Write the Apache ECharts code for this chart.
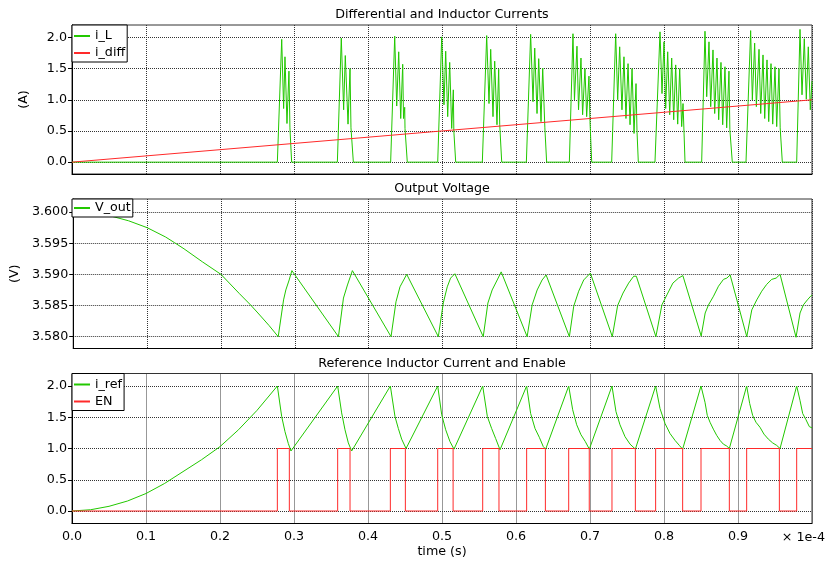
<!DOCTYPE html>
<html>
<head>
<meta charset="utf-8">
<script src="https://cdn.jsdelivr.net/npm/echarts@6.0.0/dist/echarts.min.js"></script>
<style>html,body{margin:0;padding:0;background:#fff}#c{width:827px;height:565px}</style>
</head>
<body>
<div id="c"></div>
<script>
// ---- data (time in units of 1e-4 s) ----
const xTicks = [0, 0.1, 0.2, 0.3, 0.4, 0.5, 0.6, 0.7, 0.8, 0.9, 1.0];
const currentTicks = [0, 0.5, 1.0, 1.5, 2.0];
const voltTicks = [3.580, 3.585, 3.590, 3.595, 3.600];

const iDiff = [[0, 0], [1.0, 1.0]];

const iL = [
  [0,0],
  [0.2775,0],[0.2834,1.97],[0.2860,0.86],[0.2878,1.69],[0.2905,0.62],[0.2932,1.46],[0.2945,0.55],[0.2968,0],
  [0.3586,0],[0.3639,1.99],[0.3671,0.84],[0.3693,1.71],[0.3730,0.61],[0.3757,1.50],[0.3770,0.55],[0.3802,0],
  [0.4306,0],[0.4361,2.02],[0.4388,0.90],[0.4415,1.77],[0.4442,0.70],[0.4469,1.57],[0.4480,0.70],[0.4496,0.88],[0.4500,0.54],[0.4531,0],
  [0.4942,0],[0.4996,2.01],[0.5027,0.92],[0.5050,1.78],[0.5077,0.73],[0.5104,1.60],[0.5131,0.54],[0.5153,1.16],[0.5160,0.50],[0.5185,0],
  [0.5545,0],[0.5604,2.03],[0.5635,0.94],[0.5658,1.81],[0.5689,0.73],[0.5712,1.62],[0.5743,0.60],[0.5766,1.49],[0.5780,0.60],[0.5807,0],
  [0.6140,0],[0.6198,2.05],[0.6230,0.97],[0.6253,1.83],[0.6284,0.78],[0.6307,1.66],[0.6338,0.65],[0.6361,1.51],[0.6390,0.55],[0.6414,0],
  [0.6721,0],[0.6770,2.06],[0.6790,1.00],[0.6824,1.86],[0.6845,0.84],[0.6878,1.67],[0.6900,0.76],[0.6932,1.50],[0.6955,0.73],[0.6986,1.38],[0.7000,0.65],[0.7023,0],
  [0.7293,0],[0.7347,2.06],[0.7374,1.00],[0.7401,1.85],[0.7432,0.84],[0.7459,1.69],[0.7486,0.70],[0.7514,1.58],[0.7541,0.60],[0.7568,1.50],[0.7595,0.46],[0.7622,1.26],[0.7635,0.50],[0.7653,0],
  [0.7878,0],[0.7946,2.09],[0.7973,1.10],[0.8000,1.93],[0.8023,0.86],[0.8050,1.77],[0.8077,0.76],[0.8104,1.67],[0.8131,0.68],[0.8158,1.56],[0.8185,0.61],[0.8212,1.50],[0.8239,0.57],[0.8257,0.94],[0.8270,0.50],[0.8284,0],
  [0.8509,0],[0.8554,2.10],[0.8577,1.05],[0.8608,1.93],[0.8631,0.89],[0.8662,1.80],[0.8685,0.78],[0.8716,1.67],[0.8739,0.68],[0.8770,1.60],[0.8793,0.60],[0.8824,1.53],[0.8847,0.55],[0.8878,1.46],[0.8890,0.52],[0.8923,0],
  [0.9108,0],[0.9171,2.11],[0.9194,1.00],[0.9225,1.91],[0.9248,0.89],[0.9284,1.81],[0.9307,0.78],[0.9338,1.72],[0.9361,0.70],[0.9392,1.64],[0.9415,0.65],[0.9446,1.58],[0.9469,0.61],[0.9500,1.53],[0.9523,0.57],[0.9554,1.50],[0.9570,0.55],[0.9599,0],
  [0.9793,0],[0.9838,2.13],[0.9865,1.08],[0.9896,1.98],[0.9923,1.01],[0.9950,1.85],[0.9977,0.84],[1.0,1.30]
];

const vOut = [
  [0,3.6000],[0.025,3.5998],[0.05,3.5994],[0.075,3.5986],[0.1,3.5975],[0.125,3.5960],[0.137,3.5951],[0.15,3.5941],
  [0.175,3.5920],[0.2,3.5900],[0.225,3.5869],[0.24,3.5851],[0.25,3.5838],[0.265,3.5818],[0.2775,3.5800],
  [0.2847,3.5859],[0.2878,3.5875],[0.2923,3.5891],[0.2960,3.5906],
  [0.3590,3.5800],
  [0.3658,3.5862],[0.3712,3.5883],[0.3779,3.5906],
  [0.4302,3.5800],
  [0.4369,3.5856],[0.4423,3.5880],[0.4514,3.5900],
  [0.4942,3.5800],
  [0.5009,3.5854],[0.5063,3.5880],[0.5108,3.5894],[0.5166,3.5901],
  [0.5550,3.5800],
  [0.5613,3.5854],[0.5671,3.5875],[0.5739,3.5891],[0.5793,3.5904],
  [0.6144,3.5800],
  [0.6212,3.5851],[0.6280,3.5875],[0.6347,3.5891],[0.6401,3.5899],
  [0.6716,3.5800],
  [0.6775,3.5849],[0.6842,3.5873],[0.6910,3.5891],[0.7000,3.5902],
  [0.7297,3.5800],
  [0.7369,3.5850],[0.7442,3.5870],[0.7518,3.5886],[0.7586,3.5897],[0.7622,3.5897],
  [0.7887,3.5800],
  [0.7968,3.5851],[0.8036,3.5867],[0.8117,3.5886],[0.8193,3.5894],[0.8252,3.5898],
  [0.8500,3.5801],
  [0.8554,3.5838],[0.8599,3.5851],[0.8667,3.5865],[0.8734,3.5881],[0.8802,3.5892],[0.8847,3.5894],[0.8892,3.5899],
  [0.9117,3.5800],
  [0.9185,3.5843],[0.9252,3.5859],[0.9320,3.5873],[0.9387,3.5884],[0.9455,3.5892],[0.9514,3.5894],[0.9568,3.5900],
  [0.9784,3.5799],
  [0.9838,3.5838],[0.9883,3.5851],[0.9937,3.5859],[0.9982,3.5865],[1.0,3.5867]
];

const iRef = [
  [0,0],[0.025,0.02],[0.05,0.075],[0.075,0.16],[0.1,0.28],[0.125,0.44],[0.15,0.63],[0.175,0.82],[0.2,1.03],[0.225,1.30],[0.25,1.61],[0.2775,2.0],
  [0.2834,1.51],[0.2878,1.27],[0.2923,1.08],[0.2959,0.96],
  [0.3590,2.0],
  [0.3644,1.57],[0.3689,1.30],[0.3734,1.09],[0.3779,0.96],
  [0.4302,2.0],
  [0.4365,1.51],[0.4410,1.32],[0.4455,1.15],[0.4514,1.00],
  [0.4942,2.0],
  [0.4996,1.54],[0.5050,1.30],[0.5108,1.11],[0.5162,0.99],
  [0.5550,2.0],
  [0.5613,1.51],[0.5671,1.32],[0.5725,1.16],[0.5784,0.98],
  [0.6144,2.0],
  [0.6198,1.56],[0.6257,1.32],[0.6315,1.18],[0.6369,1.03],[0.6401,0.99],
  [0.6712,2.0],
  [0.6766,1.62],[0.6820,1.38],[0.6878,1.22],[0.6937,1.11],[0.6991,0.99],
  [0.7297,2.0],
  [0.7351,1.59],[0.7405,1.38],[0.7473,1.19],[0.7541,1.07],[0.7613,0.99],
  [0.7887,2.0],
  [0.7946,1.64],[0.8014,1.40],[0.8081,1.24],[0.8149,1.13],[0.8207,1.05],[0.8252,0.99],
  [0.8500,2.0],
  [0.8554,1.74],[0.8585,1.53],[0.8622,1.42],[0.8667,1.31],[0.8712,1.21],[0.8757,1.13],[0.8802,1.07],[0.8847,1.04],[0.8883,1.00],
  [0.9117,2.0],
  [0.9158,1.72],[0.9198,1.53],[0.9243,1.42],[0.9297,1.34],[0.9351,1.23],[0.9410,1.15],[0.9468,1.09],[0.9523,1.05],[0.9568,1.00],
  [0.9793,2.0],
  [0.9838,1.77],[0.9874,1.56],[0.9919,1.46],[0.9964,1.35],[1.0,1.33]
];

// EN: value holds from each point until the next point
const enSig = [
  [0,0],[0.2775,1],[0.2937,0],[0.3590,1],[0.3757,0],[0.4302,1],[0.4505,0],[0.4942,1],[0.5150,0],
  [0.5550,1],[0.5770,0],[0.6144,1],[0.6397,0],[0.6712,1],[0.6990,0],[0.7297,1],[0.7613,0],
  [0.7887,1],[0.8252,0],[0.8500,1],[0.8883,0],[0.9117,1],[0.9559,0],[0.9793,1],[1.0,1]
];

const titles = ['Differential and Inductor Currents', 'Output Voltage', 'Reference Inductor Current and Enable'];

// ---- chart ----
const FONT = '"DejaVu Sans", Verdana, sans-serif';
const FS = 12.7;
const GREEN = '#22c800';
const RED = '#ff2a2a';
const gridTops = [25, 199, 373.5];
const gridHeights = [149, 149.5, 150];

const chart = echarts.init(document.getElementById('c'), null, {renderer: 'canvas'});

const grids = gridTops.map((t, i) => ({
  left: 72, right: 15, top: t, height: gridHeights[i],
  show: true, borderColor: '#333', borderWidth: 1, backgroundColor: '#fff'
}));

const xAxes = [0, 1, 2].map(i => ({
  type: 'value', gridIndex: i, min: 0, max: 1, interval: 0.1,
  axisLine: {show: true, onZero: false, lineStyle: {color: '#000', width: 1}},
  axisTick: {show: false},
  axisLabel: {
    show: i === 2, margin: 7, color: '#000', fontSize: FS, fontFamily: FONT,
    formatter: v => (Math.abs(v - 1) < 1e-9 ? '' : v.toFixed(1))
  },
  splitLine: {show: true, lineStyle: {color: '#333', type: [1, 1], width: 1}},
  name: i === 2 ? 'time (s)' : '',
  nameLocation: 'middle', nameGap: 22,
  nameTextStyle: {color: '#000', fontSize: FS, fontFamily: FONT}
}));

function yAxisDef(i, min, max, ticks, digits, name) {
  return {
    type: 'value', gridIndex: i, min: min, max: max,
    axisLine: {show: true, lineStyle: {color: '#000', width: 1}},
    axisTick: {show: true, length: 4, customValues: ticks, lineStyle: {color: '#000'}},
    axisLabel: {
      customValues: ticks, margin: 5, color: '#000', fontSize: FS, fontFamily: FONT,
      formatter: v => v.toFixed(digits)
    },
    splitLine: {show: true, lineStyle: {color: '#333', type: [1, 1], width: 1}},
    name: name, nameLocation: 'middle', nameGap: 42,
    nameTextStyle: {color: '#000', fontSize: FS, fontFamily: FONT}
  };
}

const yAxes = [
  yAxisDef(0, -0.19, 2.2, currentTicks, 1, '(A)'),
  yAxisDef(1, 3.5781, 3.6021, voltTicks, 3, '(V)'),
  yAxisDef(2, -0.2, 2.2, currentTicks, 1, '')
];

function lineSeries(name, data, idx, color, step) {
  const s = {
    name: name, type: 'line', data: data, xAxisIndex: idx, yAxisIndex: idx,
    showSymbol: false, symbol: 'none', sampling: null,
    lineStyle: {color: color, width: 1}, itemStyle: {color: color},
    emphasis: {disabled: true}, animation: false, clip: true
  };
  if (step) s.step = step;
  return s;
}

const legendBase = {
  orient: 'vertical', left: 72, icon: 'rect', itemWidth: 16, itemHeight: 2, itemGap: 3,
  padding: [4, 2, 2, 2], backgroundColor: '#fff', borderColor: '#000', borderWidth: 1, borderRadius: 0,
  selectedMode: false,
  textStyle: {color: '#000', fontSize: FS, fontFamily: FONT, lineHeight: 14}
};

chart.setOption({
  animation: false,
  backgroundColor: '#fff',
  textStyle: {fontFamily: FONT},
  grid: grids,
  xAxis: xAxes,
  yAxis: yAxes,
  legend: [
    Object.assign({}, legendBase, {top: 25, data: ['i_L', 'i_diff']}),
    Object.assign({}, legendBase, {top: 199, padding: [2, 2, 2, 2], data: ['V_out']}),
    Object.assign({}, legendBase, {top: 373.5, data: ['i_ref', 'EN']})
  ],
  series: [
    lineSeries('i_L', iL, 0, GREEN),
    lineSeries('i_diff', iDiff, 0, RED),
    lineSeries('V_out', vOut, 1, GREEN),
    lineSeries('i_ref', iRef, 2, GREEN),
    lineSeries('EN', enSig, 2, RED, 'end')
  ],
  graphic: [
    ...titles.map((t, i) => ({
      type: 'text', x: 442, y: gridTops[i] - 10,
      style: {text: t, fill: '#000', font: FS + 'px ' + FONT, textAlign: 'center', textVerticalAlign: 'middle'}
    })),
    {type: 'text', right: 2, top: 531,
     style: {text: '\u00d7 1e-4', fill: '#000', font: FS + 'px ' + FONT}}
  ]
});
</script>
</body>
</html>
